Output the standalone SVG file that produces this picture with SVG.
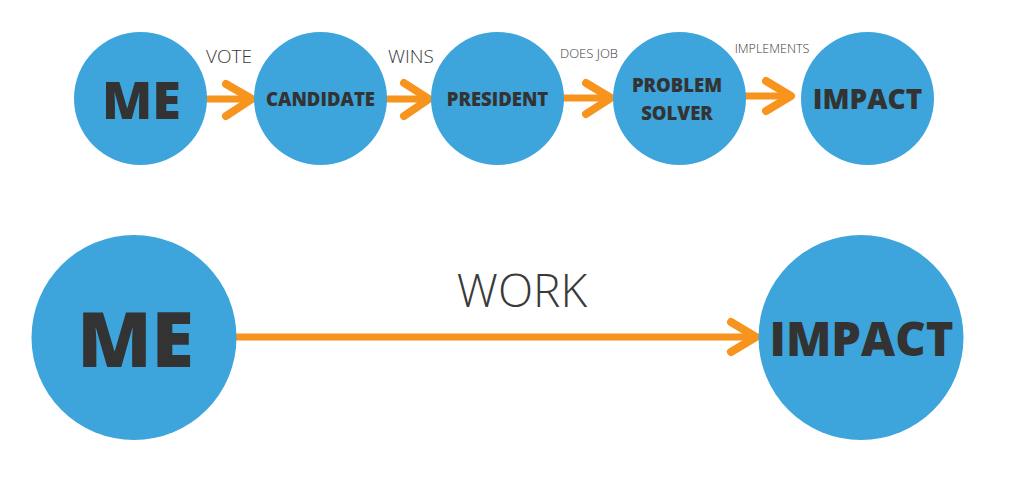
<svg xmlns="http://www.w3.org/2000/svg" width="1015" height="488" viewBox="0 0 1015 488">
  <style>
    .node { fill: #3DA5DC; }
    .bold { font-family: "Open Sans", "Liberation Sans", sans-serif; font-weight: 800; fill: #333333; text-anchor: middle; }
    .lbl { font-family: "Open Sans", "Liberation Sans", sans-serif; font-weight: 300; fill: #3a3a3a; text-anchor: middle; }
    .line { stroke: #F7941D; stroke-width: 7; fill: none; }
    .chev { stroke: #F7941D; stroke-width: 8; fill: none; stroke-linecap: round; stroke-linejoin: round; }
  </style>
  <rect width="1015" height="488" fill="#FFFFFF"/>
  <g id="connectors">
    <line class="line" x1="206" y1="99" x2="250" y2="99"/>
    <polyline class="chev" points="226,84 252,99 226,116"/>
    <line class="line" x1="386" y1="99" x2="427" y2="99"/>
    <polyline class="chev" points="404,83 429,99 404,116"/>
    <line class="line" x1="563" y1="98" x2="610" y2="98"/>
    <polyline class="chev" points="586,83 611,98 586,114"/>
    <line class="line" x1="745" y1="96" x2="790" y2="96"/>
    <polyline class="chev" points="766,81 791,96 766,111"/>
    <line class="line" x1="236" y1="337" x2="755" y2="337"/>
    <polyline class="chev" points="731,322 756,337 731,352"/>
    <text class="lbl" x="229" y="63" font-size="19">VOTE</text>
    <text class="lbl" x="411" y="63" font-size="19">WINS</text>
    <text class="lbl" x="589" y="58" font-size="13">DOES JOB</text>
    <text class="lbl" x="772" y="53" font-size="12.5">IMPLEMENTS</text>
    <text class="lbl" x="522" y="307" font-size="46">WORK</text>
  </g>
  <g id="node-me-top">
    <circle class="node" cx="140.5" cy="98.5" r="66.5"/>
    <text class="bold" x="141.5" y="119" font-size="52">ME</text>
  </g>
  <g id="node-candidate">
    <circle class="node" cx="320.5" cy="98.5" r="66.5"/>
    <text class="bold" x="320.5" y="106" font-size="18.5">CANDIDATE</text>
  </g>
  <g id="node-president">
    <circle class="node" cx="497.5" cy="98.5" r="66.5"/>
    <text class="bold" x="497.5" y="106" font-size="18.5">PRESIDENT</text>
  </g>
  <g id="node-problem-solver">
    <circle class="node" cx="679.5" cy="98.5" r="66.5"/>
    <text class="bold" x="677" y="91.5" font-size="18.5">PROBLEM</text>
    <text class="bold" x="677" y="120" font-size="18.5">SOLVER</text>
  </g>
  <g id="node-impact-top">
    <circle class="node" cx="867.5" cy="98.5" r="66.5"/>
    <text class="bold" x="867.5" y="109" font-size="28">IMPACT</text>
  </g>
  <g id="node-me-bottom">
    <circle class="node" cx="134" cy="337.5" r="102.5"/>
    <text class="bold" x="135.5" y="366.5" font-size="77">ME</text>
  </g>
  <g id="node-impact-bottom">
    <circle class="node" cx="861" cy="337.5" r="102.5"/>
    <text class="bold" x="861.5" y="356" font-size="47">IMPACT</text>
  </g>
</svg>
